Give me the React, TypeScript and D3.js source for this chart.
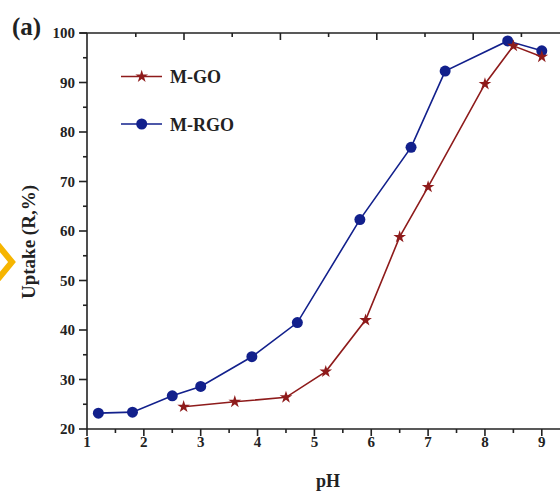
import React from "react";
import * as d3 from "d3";

const rgoPH = [1.2, 1.8, 2.5, 3.0, 3.9, 4.7, 5.8, 6.7, 7.3, 8.4, 9.0];
const rgoUptake = [23.2, 23.4, 26.7, 28.6, 34.6, 41.5, 62.3, 76.9, 92.3, 98.4, 96.4];
const goPH = [2.7, 3.6, 4.5, 5.2, 5.9, 6.5, 7.0, 8.0, 8.5, 9.0];
const goUptake = [24.5, 25.5, 26.4, 31.6, 42.0, 58.8, 68.9, 89.7, 97.4, 95.2];
const xTickLabels = ["1", "2", "3", "4", "5", "6", "7", "8", "9"];
const yTickLabels = ["20", "30", "40", "50", "60", "70", "80", "90", "100"];
const topTicks = [-0.5, 0, 0.5, 1, 1.5, 2, 2.5, 3, 3.5];
const seriesNames = ["M-GO", "M-RGO"];

const RED = "#8E1B1B";
const BLUE = "#12208C";
const FONT = "'Liberation Serif', 'Times New Roman', serif";

export default function App() {
  const x = d3.scaleLinear().domain([1, 9]).range([87, 541.8]);
  const y = d3.scaleLinear().domain([20, 100]).range([429, 33]);
  const xTop = d3.scaleLinear().domain([0, 1]).range([184, 280.4]);

  const line = d3
    .line<[number, number]>()
    .x((d) => x(d[0]))
    .y((d) => y(d[1]));

  const rgo: [number, number][] = rgoPH.map((p, i) => [p, rgoUptake[i]]);
  const go: [number, number][] = goPH.map((p, i) => [p, goUptake[i]]);
  const star = d3.symbol().type(d3.symbolStar).size(50)() as string;

  const xMinor = d3.range(1.5, 9.6, 1);
  const yMinor = d3.range(25, 100, 10);

  return (
    <svg
      width={560}
      height={492}
      style={{ position: "absolute", left: 0, top: 0, background: "#fff" }}
      fontFamily={FONT}
    >
      <rect width={560} height={492} fill="#fff" />
      {/* orange chevron artifact */}
      <polyline
        points="-2,245 12,262 -2,279"
        fill="none"
        stroke="#F6B500"
        strokeWidth={6}
        strokeLinejoin="miter"
      />
      {/* axes */}
      <g stroke="#222" strokeWidth={1.6} fill="none">
        <line x1={87} y1={429} x2={560} y2={429} />
        <line x1={87} y1={33} x2={87} y2={429} />
        <line x1={80} y1={33} x2={560} y2={33} />
        {xTickLabels.map((t) => (
          <line key={"xt" + t} x1={x(+t)} x2={x(+t)} y1={429} y2={436} />
        ))}
        {xMinor.map((t) => (
          <line key={"xm" + t} x1={x(t)} x2={x(t)} y1={429} y2={433} />
        ))}
        {yTickLabels.map((t) => (
          <line key={"yt" + t} x1={79} x2={87} y1={y(+t)} y2={y(+t)} />
        ))}
        {yMinor.map((t) => (
          <line key={"ym" + t} x1={83} x2={87} y1={y(t)} y2={y(t)} />
        ))}
        {topTicks.map((t) => (
          <line
            key={"tt" + t}
            x1={xTop(t)}
            x2={xTop(t)}
            y1={33}
            y2={Number.isInteger(t) ? 40 : 37}
          />
        ))}
      </g>
      {/* tick labels */}
      <g fontWeight="bold" fontSize={15} fill="#222">
        {xTickLabels.map((t) => (
          <text key={"xl" + t} x={x(+t)} y={447} textAnchor="middle">
            {t}
          </text>
        ))}
        {yTickLabels.map((t) => (
          <text key={"yl" + t} x={75} y={y(+t) + 5} textAnchor="end">
            {t}
          </text>
        ))}
      </g>
      {/* axis titles */}
      <text x={328} y={487} textAnchor="middle" fontWeight="bold" fontSize={18} fill="#222">
        pH
      </text>
      <text
        transform="translate(35,242) rotate(-90)"
        textAnchor="middle"
        fontWeight="bold"
        fontSize={19}
        fill="#222"
      >
        Uptake (R,%)
      </text>
      <text x={12} y={35} fontWeight="bold" fontSize={25} fill="#222">
        (a)
      </text>
      {/* series */}
      <path d={line(rgo) as string} fill="none" stroke={BLUE} strokeWidth={1.6} />
      {rgo.map((d, i) => (
        <circle key={"c" + i} cx={x(d[0])} cy={y(d[1])} r={5.5} fill={BLUE} />
      ))}
      <path d={line(go) as string} fill="none" stroke={RED} strokeWidth={1.6} />
      {go.map((d, i) => (
        <path key={"s" + i} d={star} transform={`translate(${x(d[0])},${y(d[1])})`} fill={RED} />
      ))}
      {/* legend */}
      <line x1={121} x2={162} y1={76.5} y2={76.5} stroke={RED} strokeWidth={1.6} />
      <path d={star} transform="translate(141.7,76.5)" fill={RED} />
      <text x={170} y={83} fontWeight="bold" fontSize={18} fill="#222">
        {seriesNames[0]}
      </text>
      <line x1={121} x2={162} y1={124} y2={124} stroke={BLUE} strokeWidth={1.6} />
      <circle cx={141.7} cy={124} r={5.5} fill={BLUE} />
      <text x={170} y={130.5} fontWeight="bold" fontSize={18} fill="#222">
        {seriesNames[1]}
      </text>
    </svg>
  );
}
